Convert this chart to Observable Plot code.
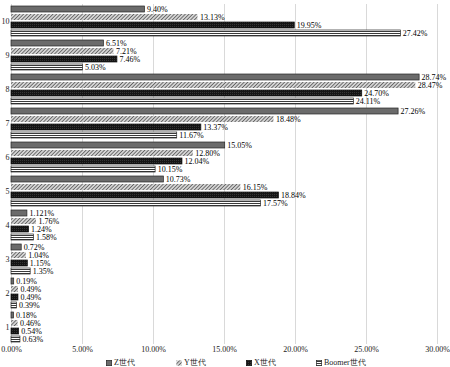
<!DOCTYPE html>
<html><head><meta charset="utf-8">
<script src="https://cdn.jsdelivr.net/npm/d3@7"></script>
<script src="https://cdn.jsdelivr.net/npm/@observablehq/plot@0.6"></script>
<style>
body{margin:0;background:#fff;}
#wrap{position:relative;width:450px;height:367px;font-family:"Liberation Serif",serif;overflow:hidden;}
#legend{position:absolute;top:358px;left:0;width:450px;height:9px;font-size:8px;color:#222;}
.item{position:absolute;top:0;display:flex;align-items:center;gap:2px;line-height:9px;white-space:nowrap;}
.item svg{display:block;}
</style></head><body><div id="wrap"><div id="chart"></div><div id="legend"></div></div>
<script>
// Categories top to bottom
const categories = ["10","9","8","7","6","5","4","3","2","1"];
const series = ["Z世代","Y世代","X世代","Boomer世代"];
const zGen = [9.40, 6.51, 28.74, 27.26, 15.05, 10.73, 1.121, 0.72, 0.19, 0.18];
const yGen = [13.13, 7.21, 28.47, 18.48, 12.80, 16.15, 1.76, 1.04, 0.49, 0.46];
const xGen = [19.95, 7.46, 24.70, 13.37, 12.04, 18.84, 1.24, 1.15, 0.49, 0.54];
const boomerGen = [27.42, 5.03, 24.11, 11.67, 10.15, 17.57, 1.58, 1.35, 0.39, 0.63];
const xTicks = [0, 5, 10, 15, 20, 25, 30];

const seriesValues = [zGen, yGen, xGen, boomerGen];
const rows = [];
categories.forEach((c, i) => series.forEach((s, j) => rows.push({cat: c, series: s, value: seriesValues[j][i]})));

const fmt = v => (Math.round(v * 1000) % 10 ? v.toFixed(3) : v.toFixed(2)) + "%";
const fills = {"Z世代": "#6b6b6b", "Y世代": "url(#patY)", "X世代": "url(#patX)", "Boomer世代": "url(#patB)"};
const strokes = {"Z世代": "#262626", "Y世代": "none", "X世代": "#111", "Boomer世代": "#262626"};

const marks = [Plot.ruleX(xTicks, {stroke: "#d9d9d9", strokeWidth: 1})];
series.forEach(s => marks.push(Plot.barX(rows.filter(d => d.series === s), {
  x: "value", y: "series", fy: "cat", fill: fills[s], stroke: strokes[s], strokeWidth: 0.7
})));
marks.push(Plot.text(rows, {x: "value", y: "series", fy: "cat", text: d => fmt(d.value), textAnchor: "start", dx: 2, fontSize: 8, fill: "black"}));

const chart = Plot.plot({
  width: 450, height: 358,
  marginTop: 0, marginBottom: 10, marginLeft: 11, marginRight: 13,
  style: {fontFamily: "Liberation Serif, serif", fontSize: "8px", background: "white", color: "#222"},
  x: {domain: [0, 30], ticks: 6, tickFormat: d => d.toFixed(2) + "%", tickSize: 0, tickPadding: 2, label: null},
  y: {domain: series, axis: null, paddingInner: 0.2, paddingOuter: 0.2},
  fy: {domain: categories, padding: 0, axis: "left", tickSize: 0, tickPadding: 2, label: null},
  marks
});
document.getElementById("chart").appendChild(chart);
const svg = chart.tagName.toLowerCase() === "svg" ? chart : chart.querySelector("svg");
const defs = document.createElementNS("http://www.w3.org/2000/svg", "defs");
defs.innerHTML = `
<pattern id="patY" width="2.6" height="2.6" patternUnits="userSpaceOnUse" patternTransform="rotate(45)">
  <rect width="2.6" height="2.6" fill="#d4d4d4"/>
  <line x1="0" y1="0" x2="0" y2="2.6" stroke="#3c3c3c" stroke-width="1.3"/>
</pattern>
<pattern id="patX" width="2" height="2" patternUnits="userSpaceOnUse">
  <rect width="2" height="2" fill="#151515"/>
  <rect width="1" height="1" fill="#353535"/>
</pattern>
<pattern id="patB" width="4" height="2" patternUnits="userSpaceOnUse">
  <rect width="4" height="2" fill="#ffffff"/>
  <rect y="1" width="4" height="1" fill="#3a3a3a"/>
</pattern>`;
svg.insertBefore(defs, svg.firstChild);

// Legend
const legend = document.getElementById("legend");
const lefts = [106, 176, 246, 316];
series.forEach((s, i) => {
  const item = document.createElement("div");
  item.className = "item";
  item.style.left = lefts[i] + "px";
  const sw = strokes[s] === "none" ? "none" : strokes[s];
  item.innerHTML = `<svg width="6" height="6"><rect x="0.35" y="0.35" width="5.3" height="5.3" fill="${fills[s]}" stroke="${sw}" stroke-width="0.7"/></svg><span>${s}</span>`;
  legend.appendChild(item);
});
</script></body></html>
